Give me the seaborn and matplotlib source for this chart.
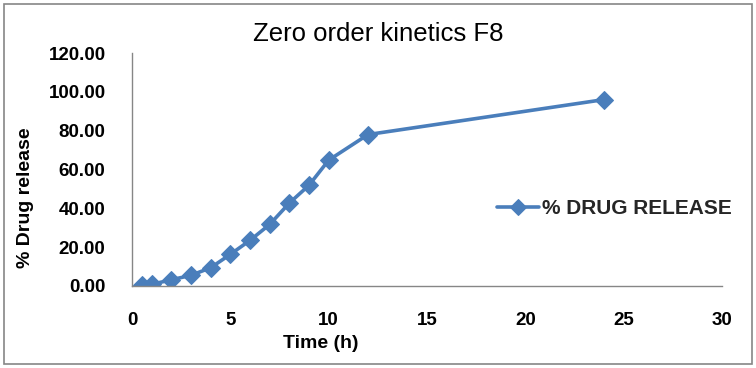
import matplotlib
matplotlib.use("Agg")
import matplotlib.pyplot as plt
import seaborn as sns
import pandas as pd
from matplotlib.patches import Rectangle

time_h = [0.5, 1, 2, 3, 4, 5, 6, 7, 8, 9, 10, 12, 24]
drug_release = [0.35, 0.85, 3.2, 5.5, 9.4, 16.3, 23.5, 31.7, 42.7, 51.9, 64.8, 78.0, 96.0]
series_name = "% DRUG RELEASE"
x_ticks = [0, 5, 10, 15, 20, 25, 30]
y_ticks = [0, 20, 40, 60, 80, 100, 120]

df = pd.DataFrame({"Time (h)": time_h, "release": drug_release, "series": series_name})

sns.set_theme(style="white")
plt.rcParams['font.family'] = ['Liberation Sans', 'DejaVu Sans']

fig = plt.figure(figsize=(7.56, 3.68), dpi=100)
ax = fig.add_axes([132/756, 1-286/368, 590/756, 233/368])

blue = "#4A7EBB"
sns.lineplot(data=df, x="Time (h)", y="release", hue="series", palette=[blue],
             marker="D", markersize=9.5, markeredgecolor=blue, linewidth=2.6, ax=ax)

ax.set_xlim(0, 30)
ax.set_ylim(0, 120)
ax.set_xticks(x_ticks)
ax.set_yticks(y_ticks)
ax.set_yticklabels([f"{v:.2f}" for v in y_ticks])
ax.tick_params(axis='both', length=0, labelsize=13.5)
ax.tick_params(axis='x', pad=19)
ax.tick_params(axis='y', pad=19)
for lab in ax.get_xticklabels() + ax.get_yticklabels():
    lab.set_fontweight('bold')
    lab.set_color('black')

for s in ['top', 'right']:
    ax.spines[s].set_visible(False)
for s in ['left', 'bottom']:
    ax.spines[s].set_color('#868686')
    ax.spines[s].set_linewidth(1.0)

ax.set_xlabel("")
ax.set_ylabel("")
fig.text(321/756, 1-343/368, "Time (h)", ha='center', va='center',
         fontsize=14, fontweight='bold', color='black')
fig.text(26/756, 1-198/368, "% Drug release", ha='center', va='center',
         rotation=90, fontsize=14, fontweight='bold', color='black')
fig.text(378/756, 1-34/368, "Zero order kinetics F8", ha='center', va='center',
         fontsize=18.5, color='black')

handles, labels = ax.get_legend_handles_labels()
for h in handles:
    h.set_markersize(8)
ax.legend(handles, labels, loc='center left', bbox_to_anchor=(497/756, 1-209/368),
          bbox_transform=fig.transFigure, frameon=False,
          prop={'weight': 'bold', 'size': 15}, borderpad=0, borderaxespad=0,
          handlelength=2.0, handletextpad=0.15)

fig.patches.append(Rectangle((4/756, 4/368), 748/756, 360/368, transform=fig.transFigure,
                             fill=False, edgecolor='#868686', linewidth=1.2))

fig.savefig("out.png", dpi=100)
